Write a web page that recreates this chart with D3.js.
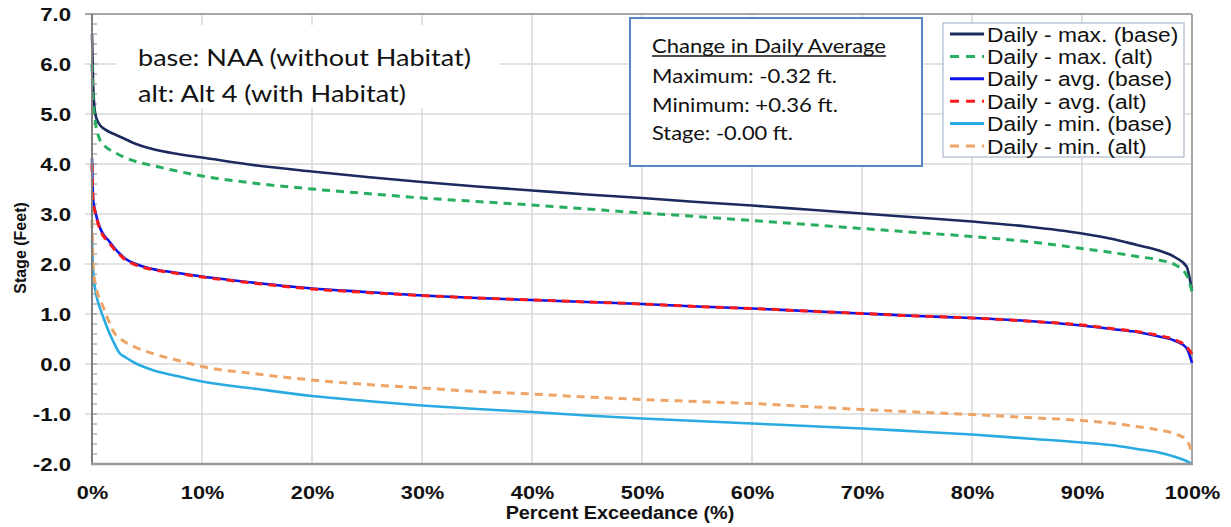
<!DOCTYPE html>
<html><head><meta charset="utf-8">
<script src="https://cdn.jsdelivr.net/npm/d3@7"></script>
<style>html,body{margin:0;padding:0;background:#fff;}svg{display:block;}</style>
</head><body>
<svg id="chart" width="1231" height="527"></svg>
<script>
// ---------- data ----------
const pct = [0, 0.1, 0.3, 0.6, 1, 1.5, 2, 2.5, 3, 4, 5.5, 7.5, 10, 15, 20, 25, 30, 35, 40, 45, 50, 55, 60, 65, 70, 75, 80, 85, 90, 93, 95, 97, 98.5, 99.5, 100];
const maxBase = [6.6, 5.6, 5.0, 4.82, 4.72, 4.65, 4.6, 4.55, 4.5, 4.4, 4.3, 4.21, 4.13, 3.97, 3.85, 3.74, 3.64, 3.55, 3.47, 3.39, 3.32, 3.24, 3.17, 3.09, 3.01, 2.93, 2.85, 2.75, 2.61, 2.49, 2.38, 2.27, 2.13, 1.95, 1.46];
const maxAlt  = [6.0, 5.3, 4.85, 4.55, 4.4, 4.3, 4.24, 4.18, 4.13, 4.05, 3.97, 3.87, 3.76, 3.61, 3.5, 3.41, 3.32, 3.25, 3.18, 3.1, 3.02, 2.95, 2.87, 2.79, 2.71, 2.63, 2.55, 2.45, 2.31, 2.22, 2.15, 2.08, 1.98, 1.78, 1.45];
const avgBase = [4.12, 3.3, 3.05, 2.8, 2.6, 2.47, 2.33, 2.21, 2.11, 2.0, 1.9, 1.83, 1.75, 1.62, 1.51, 1.44, 1.37, 1.32, 1.28, 1.24, 1.2, 1.15, 1.11, 1.06, 1.01, 0.96, 0.92, 0.86, 0.77, 0.69, 0.64, 0.55, 0.46, 0.32, 0.02];
const avgAlt  = [4.0, 3.25, 3.02, 2.77, 2.57, 2.44, 2.3, 2.19, 2.09, 1.98, 1.89, 1.82, 1.74, 1.61, 1.5, 1.43, 1.37, 1.32, 1.28, 1.24, 1.2, 1.15, 1.11, 1.06, 1.01, 0.96, 0.92, 0.86, 0.78, 0.7, 0.65, 0.57, 0.48, 0.35, 0.2];
const minBase = [2.48, 1.85, 1.48, 1.2, 0.95, 0.66, 0.42, 0.22, 0.14, 0.01, -0.12, -0.23, -0.35, -0.5, -0.64, -0.74, -0.83, -0.9, -0.96, -1.03, -1.09, -1.14, -1.19, -1.24, -1.29, -1.35, -1.41, -1.49, -1.57, -1.63, -1.7, -1.77, -1.86, -1.94, -2.0];
const minAlt  = [2.88, 1.95, 1.6, 1.35, 1.15, 0.87, 0.63, 0.52, 0.44, 0.33, 0.21, 0.09, -0.05, -0.2, -0.32, -0.41, -0.48, -0.55, -0.6, -0.66, -0.71, -0.75, -0.79, -0.85, -0.91, -0.96, -1.01, -1.07, -1.13, -1.19, -1.25, -1.32, -1.4, -1.52, -1.76];

const seriesNames = ["Daily - max. (base)", "Daily - max. (alt)", "Daily - avg. (base)", "Daily - avg. (alt)", "Daily - min. (base)", "Daily - min. (alt)"];
const seriesValues = [maxBase, maxAlt, avgBase, avgAlt, minBase, minAlt];
const seriesColors = ["#1c2a5e", "#27ae60", "#0a14e6", "#ff1a1a", "#29abe2", "#eda466"];
const seriesDashed = [false, true, false, true, false, true];

const xTicks = [0, 10, 20, 30, 40, 50, 60, 70, 80, 90, 100];
const yTicks = [-2, -1, 0, 1, 2, 3, 4, 5, 6, 7];
const noteLines = ["base: NAA (without Habitat)", "alt: Alt 4 (with Habitat)"];
const boxTitle = "Change in Daily Average";
const boxLines = ["Maximum: -0.32 ft.", "Minimum: +0.36 ft.", "Stage: -0.00 ft."];
const xTitle = "Percent Exceedance (%)";
const yTitle = "Stage (Feet)";

// ---------- layout ----------
const L = 92, R = 1192, T = 14, B = 464;
const svg = d3.select("#chart");
const x = d3.scaleLinear().domain([0, 100]).range([L, R]);
const y = d3.scaleLinear().domain([-2, 7]).range([B, T]);

function stretch(sel, k) {
  sel.each(function () {
    const w = this.getComputedTextLength();
    d3.select(this).attr("textLength", w * k).attr("lengthAdjust", "spacingAndGlyphs");
  });
}

// gridlines
svg.append("g").selectAll("line").data(xTicks.filter(d => d > 0 && d < 100)).join("line")
  .attr("x1", d => x(d)).attr("x2", d => x(d)).attr("y1", T).attr("y2", B)
  .attr("stroke", "#d9d9d9").attr("stroke-width", 1.5);
svg.append("g").selectAll("line").data(yTicks.filter(d => d > -2 && d < 7)).join("line")
  .attr("x1", L - 7).attr("x2", R).attr("y1", d => y(d)).attr("y2", d => y(d))
  .attr("stroke", "#d9d9d9").attr("stroke-width", 1.5);

// minor ticks on y axis (inside)
const minor = d3.range(-2, 7.001, 0.2).map(v => +v.toFixed(1));
svg.append("g").selectAll("line").data(minor).join("line")
  .attr("x1", L).attr("x2", L + 5).attr("y1", d => y(d)).attr("y2", d => y(d))
  .attr("stroke", "#8c8c8c").attr("stroke-width", 1);

// frame
svg.append("line").attr("x1", L - 7).attr("x2", R).attr("y1", T).attr("y2", T).attr("stroke", "#a6a6a6").attr("stroke-width", 2);
svg.append("line").attr("x1", R).attr("x2", R).attr("y1", T).attr("y2", B).attr("stroke", "#a6a6a6").attr("stroke-width", 2);

// note box (white, covering gridlines)
svg.append("rect").attr("x", 117).attr("y", 25).attr("width", 382).attr("height", 83).attr("fill", "#fff");
const noteG = svg.append("g").attr("font-family", "Lato, 'Open Sans', sans-serif").attr("font-size", 24).attr("fill", "#111");
const noteW = [333, 268];
noteG.selectAll("text").data(noteLines).join("text")
  .attr("x", 138).attr("y", (d, i) => 66 + i * 36).text(d => d)
  .attr("textLength", (d, i) => noteW[i]).attr("lengthAdjust", "spacingAndGlyphs");

// summary box
svg.append("rect").attr("x", 630).attr("y", 18).attr("width", 292).attr("height", 148)
  .attr("fill", "#fff").attr("stroke", "#5b86c5").attr("stroke-width", 2);
const boxG = svg.append("g").attr("font-family", "Lato, 'Open Sans', sans-serif").attr("font-size", 20).attr("fill", "#111");
boxG.append("text").attr("x", 652).attr("y", 53).text(boxTitle)
  .attr("textLength", 234).attr("lengthAdjust", "spacingAndGlyphs");
boxG.append("line").attr("x1", 652).attr("x2", 886).attr("y1", 56).attr("y2", 56).attr("stroke", "#111").attr("stroke-width", 1.3);
const boxW = [185, 186, 141];
boxG.selectAll("text.l").data(boxLines).join("text").attr("class", "l")
  .attr("x", 652).attr("y", (d, i) => 83 + i * 28.5).text(d => d)
  .attr("textLength", (d, i) => boxW[i]).attr("lengthAdjust", "spacingAndGlyphs");

// legend
svg.append("rect").attr("x", 943).attr("y", 23).attr("width", 241).attr("height", 134)
  .attr("fill", "#fff").attr("stroke", "#9aa8c4").attr("stroke-width", 1);
const leg = svg.append("g").selectAll("g").data(seriesNames).join("g")
  .attr("transform", (d, i) => `translate(0,${34 + i * 22.4})`);
leg.append("line").attr("x1", 950).attr("x2", 984).attr("y1", 0).attr("y2", 0)
  .attr("stroke", (d, i) => seriesColors[i]).attr("stroke-width", 3)
  .attr("stroke-dasharray", (d, i) => seriesDashed[i] ? "9,7" : null);
leg.append("text").attr("x", 987).attr("y", 7.5).text(d => d)
  .attr("font-family", "'Liberation Sans', Arial, sans-serif").attr("font-size", 20).attr("fill", "#111")
  .call(stretch, 1.14);

// series lines
const line = d3.line().x((d, i) => x(pct[i])).y(d => y(d)).curve(d3.curveMonotoneX);
svg.append("g").selectAll("path").data(seriesValues).join("path")
  .attr("d", d => line(d)).attr("fill", "none")
  .attr("stroke", (d, i) => seriesColors[i])
  .attr("stroke-width", (d, i) => seriesDashed[i] ? 3 : 2.6)
  .attr("stroke-dasharray", (d, i) => seriesDashed[i] ? "8,6" : null)
  .attr("stroke-linejoin", "round");

// axes
const yAxis = svg.append("g").attr("transform", `translate(${L},0)`)
  .call(d3.axisLeft(y).tickValues(yTicks).tickSize(0).tickPadding(21).tickFormat(d => d.toFixed(1)));
yAxis.select(".domain").remove();
yAxis.selectAll("text").attr("font-family", "'Liberation Sans', Arial, sans-serif").attr("font-weight", "bold")
  .attr("font-size", 18.5).attr("fill", "#111").attr("dy", "0.36em").call(stretch, 1.2);

const xAxis = svg.append("g").attr("transform", `translate(0,${B})`)
  .call(d3.axisBottom(x).tickValues(xTicks).tickSize(0).tickFormat(d => d + "%"));
xAxis.select(".domain").remove();
xAxis.selectAll("text").attr("y", 35).attr("dy", 0)
  .attr("font-family", "'Liberation Sans', Arial, sans-serif").attr("font-weight", "bold")
  .attr("font-size", 19).attr("fill", "#111").call(stretch, 1.14);

svg.append("line").attr("x1", L).attr("x2", L).attr("y1", T).attr("y2", B).attr("stroke", "#7f7f7f").attr("stroke-width", 2);
svg.append("line").attr("x1", L - 1).attr("x2", R + 1).attr("y1", B).attr("y2", B).attr("stroke", "#999").attr("stroke-width", 2.5);

// titles
svg.append("text").attr("x", 620).attr("y", 519).attr("text-anchor", "middle").text(xTitle)
  .attr("font-family", "'Liberation Sans', Arial, sans-serif").attr("font-weight", "bold")
  .attr("font-size", 17.5).attr("fill", "#111").call(stretch, 1.13);
svg.append("text").attr("transform", "translate(26,248) rotate(-90)").attr("text-anchor", "middle").text(yTitle)
  .attr("font-family", "'Liberation Sans', Arial, sans-serif").attr("font-weight", "bold")
  .attr("font-size", 16).attr("fill", "#111").call(stretch, 1.0);
</script>
</body></html>
